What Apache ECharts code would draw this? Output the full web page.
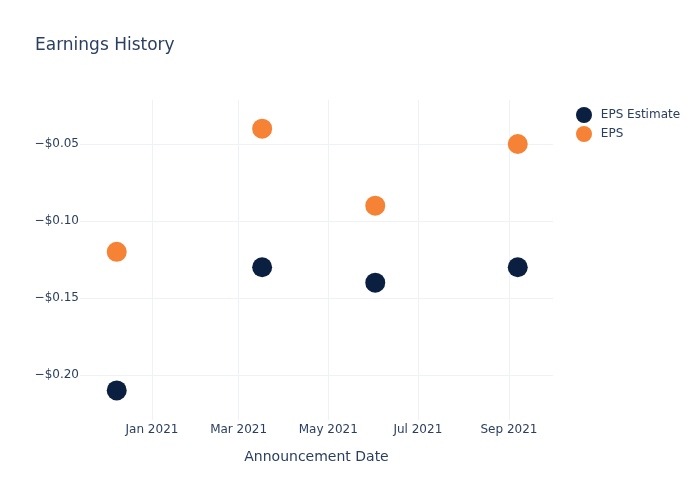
<!DOCTYPE html>
<html>
<head>
<meta charset="utf-8">
<script src="https://cdn.jsdelivr.net/npm/echarts@6/dist/echarts.min.js"></script>
<style>html,body{margin:0;padding:0;background:#fff}#c{width:700px;height:500px}</style>
</head>
<body>
<div id="c"></div>
<script>
const dates = ['2020-12-08', '2021-03-17', '2021-06-02', '2021-09-07'];
const epsEstimate = [-0.21, -0.13, -0.14, -0.13];
const eps = [-0.12, -0.04, -0.09, -0.05];
const xTicks = ['2021-01-01', '2021-03-01', '2021-05-01', '2021-07-01', '2021-09-01'];
const yTicks = [-0.20, -0.15, -0.10, -0.05];

const ts = s => new Date(s + 'T00:00:00Z').getTime();
const monthNames = ['Jan','Feb','Mar','Apr','May','Jun','Jul','Aug','Sep','Oct','Nov','Dec'];
const textColor = '#2a3f5f';
const gridColor = '#eef2f8';
const font = 'DejaVu Sans';

const chart = echarts.init(document.getElementById('c'), null, {renderer: 'canvas'});
chart.setOption({
  backgroundColor: '#fff',
  animation: false,
  textStyle: {fontFamily: font},
  title: {
    text: 'Earnings History',
    left: 30, top: 32,
    textStyle: {fontFamily: font, fontSize: 17, fontWeight: 'normal', color: textColor}
  },
  legend: {
    orient: 'vertical',
    left: 571, top: 102,
    itemGap: 3,
    itemWidth: 16, itemHeight: 16,
    icon: 'circle',
    formatter: name => ' ' + name,
    textStyle: {fontFamily: font, fontSize: 12, color: textColor},
    data: ['EPS Estimate', 'EPS']
  },
  grid: {left: 80, right: 147, top: 100, bottom: 80},
  xAxis: {
    type: 'value',
    min: ts('2020-11-13'),
    max: ts('2021-10-01'),
    name: 'Announcement Date',
    nameLocation: 'middle',
    nameGap: 30,
    nameTextStyle: {fontFamily: font, fontSize: 14, color: textColor},
    axisLine: {show: false},
    axisTick: {show: false, customValues: xTicks.map(ts)},
    axisLabel: {
      customValues: xTicks.map(ts),
      fontFamily: font, fontSize: 12, color: textColor, margin: 4,
      formatter: v => { const d = new Date(v); return monthNames[d.getUTCMonth()] + ' ' + d.getUTCFullYear(); }
    },
    splitLine: {show: true, lineStyle: {color: gridColor, width: 1}}
  },
  yAxis: {
    type: 'value',
    min: -0.2292,
    max: -0.0214,
    axisLine: {show: false},
    axisTick: {show: false, customValues: yTicks},
    axisLabel: {
      customValues: yTicks,
      fontFamily: font, fontSize: 12, color: textColor, margin: 1,
      formatter: v => '\u2212$' + Math.abs(v).toFixed(2)
    },
    splitLine: {show: true, lineStyle: {color: gridColor, width: 1}}
  },
  series: [
    {
      name: 'EPS Estimate', type: 'scatter', symbolSize: 20,
      itemStyle: {color: '#0b1f41', opacity: 1},
      data: dates.map((d, i) => [ts(d), epsEstimate[i]])
    },
    {
      name: 'EPS', type: 'scatter', symbolSize: 20,
      itemStyle: {color: '#f58235', opacity: 1},
      data: dates.map((d, i) => [ts(d), eps[i]])
    }
  ]
});
</script>
</body>
</html>
